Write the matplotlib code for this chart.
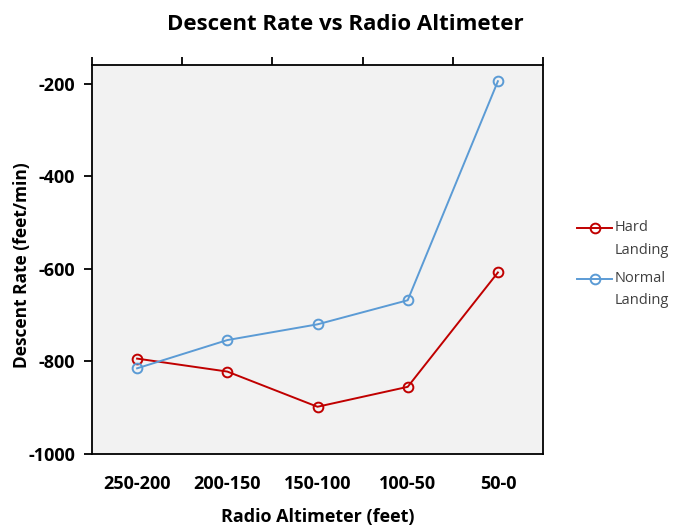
import matplotlib
matplotlib.use("Agg")
import matplotlib.pyplot as plt
from matplotlib.ticker import FixedLocator
from matplotlib.lines import Line2D

categories = ["250-200", "200-150", "150-100", "100-50", "50-0"]
hard = [-794, -822, -898, -855, -608]
normal = [-815, -754, -720, -668, -195]
yticks = [-1000, -800, -600, -400, -200]
series_names = [("Hard", "Landing"), ("Normal", "Landing")]
colors = ["#C00000", "#5B9BD5"]

plt.rcParams['font.family'] = ['Open Sans', 'DejaVu Sans']

W, H = 679, 526
fig = plt.figure(figsize=(W / 100, H / 100), dpi=100)
ax = fig.add_axes([92 / W, 1 - 454 / H, (543 - 92) / W, (454 - 65) / H])
ax.set_facecolor("#F2F2F2")

x = list(range(len(categories)))
for vals, c in zip([hard, normal], colors):
    ax.plot(x, vals, color=c, lw=1.4, marker="o", ms=7, mfc="none", mew=1.4)

ax.set_xlim(-0.5, len(categories) - 0.5)
ax.set_ylim(-1000, -160)
ax.set_yticks(yticks)
ax.set_yticklabels([str(v) for v in yticks], fontsize=13, fontweight="bold")
ax.set_xticks(x)
ax.set_xticklabels(categories, fontsize=13, fontweight="bold")
ax.tick_params(axis="x", length=0, pad=15)
ax.tick_params(axis="y", direction="out", length=6, width=1.3, pad=6)

ax.xaxis.set_minor_locator(FixedLocator([i - 0.5 for i in range(len(categories) + 1)]))
ax.tick_params(axis="x", which="minor", top=True, bottom=False, direction="out", length=6, width=1.3)

for s in ax.spines.values():
    s.set_linewidth(1.3)
    s.set_color("black")

fig.text(345 / W, 1 - 24 / H, "Descent Rate vs Radio Altimeter", fontsize=16,
         fontweight="bold", ha="center", va="center")
ax.set_xlabel("Radio Altimeter (feet)", fontsize=13, fontweight="bold")
ax.xaxis.label.set_va("center")
ax.xaxis.set_label_coords(0.5, -(517 - 454) / 389)
ax.set_ylabel("Descent Rate (feet/min)", fontsize=12.5, fontweight="bold")
ax.yaxis.label.set_va("center")
ax.yaxis.set_label_coords((22 - 92) / 451, (454 - 265) / 389)

# legend drawn manually to keep the handle aligned with the first text line
leg_rows = [(228, 250), (279, 300)]
for (n1, n2), c, (y1, y2) in zip(series_names, colors, leg_rows):
    fy = 1 - y1 / H
    fig.add_artist(Line2D([577 / W, 612 / W], [fy, fy], color=c, lw=1.4,
                          transform=fig.transFigure))
    fig.add_artist(Line2D([594.5 / W], [fy], color=c, marker="o", ms=7, mfc="none",
                          mew=1.4, transform=fig.transFigure))
    fig.text(615 / W, fy, n1, fontsize=10.5, color="#404040", ha="left", va="center")
    fig.text(615 / W, 1 - y2 / H, n2, fontsize=10.5, color="#404040", ha="left", va="center")

fig.savefig("out.png", dpi=100)
